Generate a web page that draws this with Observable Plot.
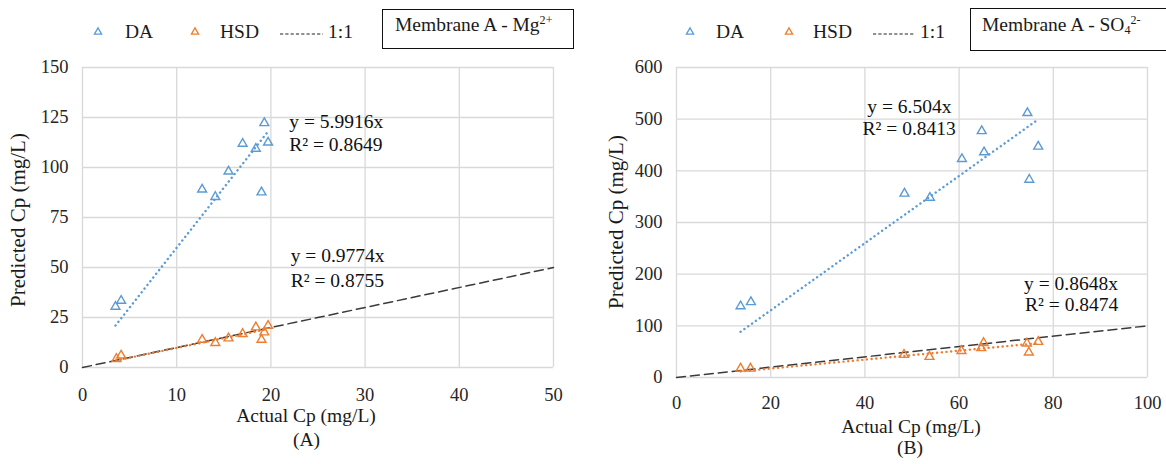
<!DOCTYPE html>
<html>
<head>
<meta charset="utf-8">
<script src="https://cdn.jsdelivr.net/npm/d3@7"></script>
<script src="https://cdn.jsdelivr.net/npm/@observablehq/plot@0.6"></script>
<style>
  html, body { margin: 0; padding: 0; background: #fff; }
  #wrap { position: relative; width: 1166px; height: 464px; overflow: hidden; background: #fff; color: #1a1a1a; }
  #wrap, #wrap * { font-family: 'Liberation Serif', 'Times New Roman', serif !important; }
  .abs { position: absolute; white-space: nowrap; font-size: 19.5px; line-height: 19.5px; }
  .box { position: absolute; border: 1.5px solid #111; box-sizing: border-box; background: #fff; }
  .chart { position: absolute; top: 0; }
  sup, sub { line-height: 0; font-size: 0.62em; }
  sup { vertical-align: 0.6em; }
  sub { vertical-align: -0.25em; }
  .rot { transform: translate(-50%, -50%) rotate(-90deg); font-size: 21px; line-height: 21px; }
  .ctr { transform: translateX(-50%); line-height: 16px; }
</style>
</head>
<body>
<div id="wrap">
  <div id="chartA" class="chart" style="left:0px"></div>
  <div id="chartB" class="chart" style="left:583px"></div>
</div>
<script>
// ---------- Data ----------
// Panel A: Membrane A - Mg2+
const daActualA  = [3.5, 4.1, 12.7, 14.1, 15.5, 17.0, 18.4, 19.0, 19.3, 19.7];
const daPredA    = [30.4, 33.4, 89.0, 85.3, 98.0, 111.9, 109.4, 87.6, 122.2, 112.5];
const hsdActualA = [3.6, 4.1, 12.7, 14.1, 15.5, 17.0, 18.4, 19.0, 19.3, 19.7];
const hsdPredA   = [4.3, 6.0, 13.9, 12.3, 14.6, 16.8, 20.1, 13.9, 17.6, 20.9];
const slopeDaA = 5.9916, r2DaA = 0.8649;
const slopeHsdA = 0.9774, r2HsdA = 0.8755;
const xTicksA = [0, 10, 20, 30, 40, 50];
const yTicksA = [0, 25, 50, 75, 100, 125, 150];

// Panel B: Membrane A - SO4 2-
const daActualB  = [13.6, 15.8, 48.4, 53.8, 60.6, 64.8, 65.3, 74.5, 74.9, 76.8];
const daPredB    = [138, 146, 356, 348, 423, 477, 436, 512, 383, 447];
const hsdActualB = [13.6, 15.7, 48.3, 53.7, 60.5, 64.7, 65.2, 74.4, 74.8, 76.8];
const hsdPredB   = [17.4, 17.4, 44, 40, 51.5, 57, 67, 66, 48.5, 69];
const slopeDaB = 6.504, r2DaB = 0.8413;
const slopeHsdB = 0.8648, r2HsdB = 0.8474;
const xTicksB = [0, 20, 40, 60, 80, 100];
const yTicksB = [0, 100, 200, 300, 400, 500, 600];

const seriesNames = ["DA", "HSD", "1:1"];
const colors = { DA: "#5b9bd5", HSD: "#ed7d31", line11: "#3a3a3a" };

// ---------- helpers ----------
const font = "'Liberation Serif', 'Times New Roman', serif";
const toRows = (xs, ys) => xs.map((x, i) => ({ x, y: ys[i] }));
const trend = (xs, slope) => {
  const lo = d3.min(xs), hi = d3.max(xs);
  return [{ x: lo, y: slope * lo }, { x: hi, y: slope * hi }];
};

function panel(opts) {
  const da = toRows(opts.daX, opts.daY);
  const hsd = toRows(opts.hsdX, opts.hsdY);
  const xMax = d3.max(opts.xTicks), yMax = d3.max(opts.yTicks);
  const one = [{ x: 0, y: 0 }, { x: xMax, y: xMax }];
  return Plot.plot({
    width: 583, height: 464,
    marginLeft: opts.ml, marginRight: opts.mr, marginTop: opts.mt, marginBottom: opts.mb,
    x: { domain: [0, xMax], ticks: opts.xTicks },
    y: { domain: [0, yMax], ticks: opts.yTicks },
    style: { fontFamily: font, fontSize: "18.5px", color: "#262626", background: "transparent", overflow: "visible" },
    marks: [
      Plot.gridX(opts.xTicks, { stroke: "#d9d9d9", strokeOpacity: 1, strokeWidth: 1.3 }),
      Plot.gridY(opts.yTicks, { stroke: "#d9d9d9", strokeOpacity: 1, strokeWidth: 1.3 }),
      Plot.axisX(opts.xTicks, { tickSize: 0, tickPadding: opts.xPad, label: null, fontSize: 18.5 }),
      Plot.axisY(opts.yTicks, { tickSize: 0, tickPadding: 14, label: null, fontSize: 18.5 }),
      Plot.line(one, { x: "x", y: "y", stroke: colors.line11, strokeWidth: 1.5, strokeDasharray: "9,5" }),
      Plot.line(trend(opts.daX, opts.slopeDa), { x: "x", y: "y", stroke: colors.DA, strokeWidth: 2.4, strokeDasharray: "0.1,4.6", strokeLinecap: "round" }),
      Plot.line(trend(opts.hsdX, opts.slopeHsd), { x: "x", y: "y", stroke: colors.HSD, strokeWidth: 2.4, strokeDasharray: "0.1,4.6", strokeLinecap: "round" }),
      Plot.dot(da, { x: "x", y: "y", symbol: "triangle", r: 3.3, stroke: colors.DA, fill: "none", strokeWidth: 1.4 }),
      Plot.dot(hsd, { x: "x", y: "y", symbol: "triangle", r: 3.3, stroke: colors.HSD, fill: "none", strokeWidth: 1.4 }),
      Plot.text(opts.labels, { x: "x", y: "y", text: "t", textAnchor: "start", fontSize: 19.5, fill: "#111" })
    ]
  });
}

const chartA = panel({
  daX: daActualA, daY: daPredA, hsdX: hsdActualA, hsdY: hsdPredA,
  slopeDa: slopeDaA, slopeHsd: slopeHsdA, xTicks: xTicksA, yTicks: yTicksA,
  ml: 82, mr: 30, mt: 67, mb: 97, xPad: 20,
  labels: [
    { x: 21.95, y: 122.7, t: `y = ${slopeDaA}x` },
    { x: 21.95, y: 111.6, t: `R² = ${r2DaA}` },
    { x: 22.1, y: 55.7, t: `y = ${slopeHsdA}x` },
    { x: 22.1, y: 43.6, t: `R² = ${r2HsdA}` }
  ]
});
document.getElementById("chartA").appendChild(chartA);

const chartB = panel({
  daX: daActualB, daY: daPredB, hsdX: hsdActualB, hsdY: hsdPredB,
  slopeDa: slopeDaB, slopeHsd: slopeHsdB, xTicks: xTicksB, yTicks: yTicksB,
  ml: 93, mr: 19, mt: 67, mb: 87, xPad: 18,
  labels: [
    { x: 40.5, y: 524.8, t: `y = ${slopeDaB}x` },
    { x: 39.5, y: 481.3, t: `R² = ${r2DaB}` },
    { x: 73.8, y: 182.3, t: `y = ${slopeHsdB}x` },
    { x: 74.0, y: 140.7, t: `R² = ${r2HsdB}` }
  ]
});
document.getElementById("chartB").appendChild(chartB);

// ---------- legends, boxes and axis titles (HTML text) ----------
const wrap = document.getElementById("wrap");
function add(html, style, cls = "abs") {
  const d = document.createElement("div");
  d.className = cls;
  d.innerHTML = html;
  d.setAttribute("style", style);
  wrap.appendChild(d);
  return d;
}
const tri = c => `<svg width="12" height="12" viewBox="-6 -6 12 12" style="display:block"><path d="${d3.symbol(d3.symbolTriangle, 22)()}" fill="none" stroke="${c}" stroke-width="1.3"/></svg>`;
const dashSample = w => `<svg width="${w}" height="4" style="display:block"><line x1="0" y1="2" x2="${w}" y2="2" stroke="#222" stroke-width="1.1" stroke-dasharray="3.2,2.1"/></svg>`;

function legend(p) {
  add(tri(colors.DA), `left:${p.t1 - 6}px; top:${p.cy - 6}px; line-height:0`);
  add(seriesNames[0], `left:${p.l1}px; top:${p.cy - 9.9}px`);
  add(tri(colors.HSD), `left:${p.t2 - 6}px; top:${p.cy - 6}px; line-height:0`);
  add(seriesNames[1], `left:${p.l2}px; top:${p.cy - 9.9}px`);
  add(dashSample(p.dw), `left:${p.d0}px; top:${p.cy}px; line-height:0`);
  add(seriesNames[2], `left:${p.l3}px; top:${p.cy - 9.9}px`);
}
legend({ cy: 32, t1: 98, l1: 125, t2: 195, l2: 220, d0: 280, dw: 43, l3: 328 });
legend({ cy: 32, t1: 690, l1: 716, t2: 789, l2: 813, d0: 873, dw: 42, l3: 920 });

add("", "left:382px; top:9px; width:192px; height:40px", "box");
add("Membrane A - Mg<sup>2+</sup>", "left:395px; top:14.5px");
add("", "left:970px; top:8px; width:220px; height:43px", "box");
add("Membrane A - SO<sub>4</sub><sup>2-</sup>", "left:982px; top:14.5px");

// axis titles (line boxes 16px tall, centred on the cap height)
add("Actual Cp (mg/L)", "left:306px; top:408px", "abs ctr");
add("(A)", "left:306.5px; top:432px", "abs ctr");
add("Actual Cp (mg/L)", "left:911px; top:419px", "abs ctr");
add("(B)", "left:910px; top:440px", "abs ctr");
add("Predicted Cp (mg/L)", "left:18px; top:220px", "abs rot");
add("Predicted Cp (mg/L)", "left:616px; top:222px", "abs rot");
</script>
</body>
</html>
